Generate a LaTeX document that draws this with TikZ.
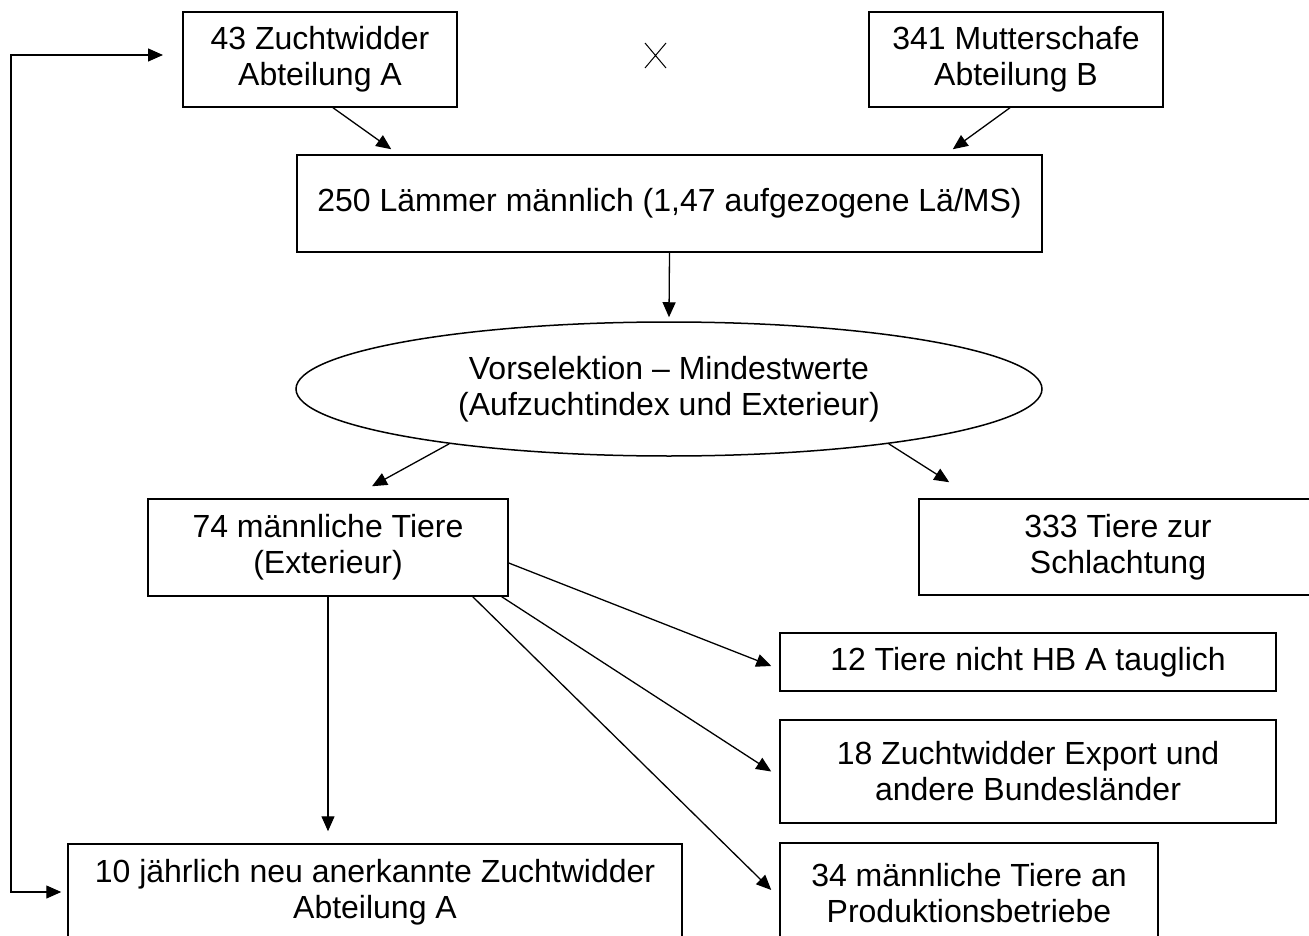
\documentclass[tikz,border=0pt]{standalone}
\usepackage{fontspec}
\setmainfont{Liberation Sans}
\usetikzlibrary{arrows.meta,shapes.geometric}

\begin{document}
\begin{tikzpicture}[x=1pt,y=-1pt,
		box/.style={draw,line width=1.5pt,inner sep=0pt,align=center,font=\fontsize{32}{36}\selectfont},
		pfeil/.style={line width=1.3pt,-{Triangle[length=15pt,width=13pt]}}]
		\useasboundingbox (0,0) rectangle (1309,936);

		% Eltern
		\node[box,minimum width=274pt,minimum height=95pt] (zA) at (320,59.5) {43 Zuchtwidder\\Abteilung A};
		\node[box,minimum width=294pt,minimum height=95pt] (zB) at (1016,59.5) {341 Mutterschafe\\Abteilung B};
		\coordinate (mal) at (655.5,55.5);
		\draw[line width=1pt] ([xshift=-10.5pt,yshift=12.5pt]mal) -- ([xshift=10.5pt,yshift=-12.5pt]mal)
			([xshift=10.5pt,yshift=12.5pt]mal) -- ([xshift=-10.5pt,yshift=-12.5pt]mal);

		\node[box,minimum width=745pt,minimum height=97pt] (lamb) at (669.5,203.5) {250 Lämmer männlich (1,47 aufgezogene Lä/MS)};
		\node[box,ellipse,minimum width=746pt,minimum height=134pt] (sel) at (669,389) {Vorselektion – Mindestwerte\\(Aufzuchtindex und Exterieur)};

		\node[box,minimum width=360pt,minimum height=97pt] (m74) at (328,547.5) {74 männliche Tiere\\(Exterieur)};
		\node[box,minimum width=398pt,minimum height=96pt] (s333) at (1118,547) {333 Tiere zur\\Schlachtung};

		\node[box,minimum width=496pt,minimum height=58pt] (t12) at (1028,662) {12 Tiere nicht HB A tauglich};
		\node[box,minimum width=496pt,minimum height=103pt] (z18) at (1028,771.5) {18 Zuchtwidder Export und\\andere Bundesländer};
		\node[box,minimum width=378pt,minimum height=100pt] (m34) at (969,893) {34 männliche Tiere an\\Produktionsbetriebe};
		\node[box,minimum width=614pt,minimum height=96pt] (z10) at (375,892) {10 jährlich neu anerkannte Zuchtwidder\\Abteilung A};

		% Pfeile
		\draw[pfeil] ([xshift=13pt]zA.south) -- ([xshift=95pt,yshift=5pt]lamb.north west);
		\draw[pfeil] ([xshift=-6pt]zB.south) -- ([xshift=-90pt,yshift=5pt]lamb.north east);
		\draw[pfeil] (lamb.south) -- ([yshift=4pt]sel.north);
		\draw[pfeil] (sel.194) -- ([xshift=44pt,yshift=12pt]m74.north);
		\draw[pfeil] (sel.346) -- ([xshift=31pt,yshift=16pt]s333.north west);
		\draw[pfeil] ([yshift=-15.5pt]m74.east) -- ([xshift=-8pt,yshift=-4pt]t12.west);
		\draw[pfeil] ([xshift=-7pt]m74.south east) -- ([xshift=-8pt]z18.west);
		\draw[pfeil] ([xshift=-36pt]m74.south east) -- ([xshift=-8pt,yshift=3pt]m34.west);
		\draw[pfeil] (m74.south) -- ([yshift=12pt]z10.north -| m74.south);

		% Rueckfuehrung
		\coordinate (fbu) at (11,892);
		\coordinate (fbo) at (11,55);
		\coordinate (fbz) at (163,55);
		\draw[pfeil,{Triangle[length=15pt,width=13pt]}-{Triangle[length=15pt,width=13pt]}] ([xshift=-6pt]z10.west) -- (fbu) -- (fbo) -- (fbz);
\end{tikzpicture}
\end{document}
